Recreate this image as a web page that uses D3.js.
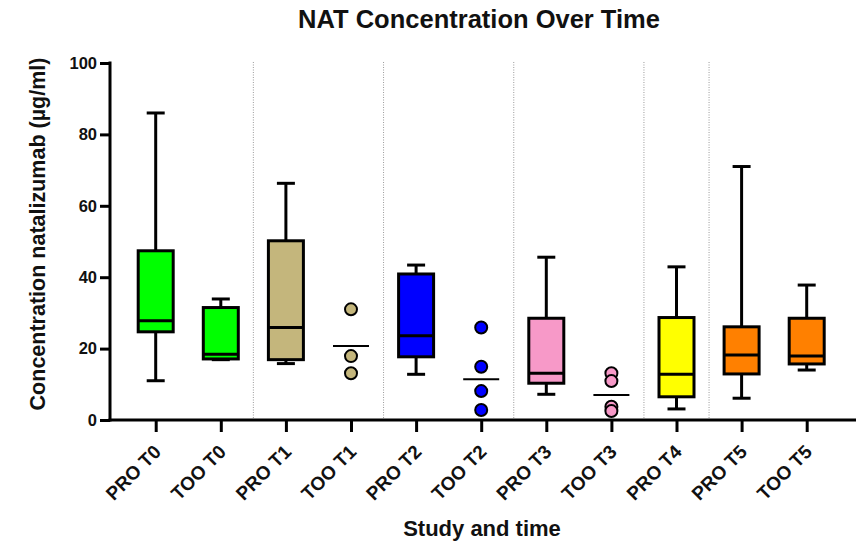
<!DOCTYPE html>
<html>
<head>
<meta charset="utf-8">
<script src="https://cdn.jsdelivr.net/npm/d3@7"></script>
<style>
  body { margin: 0; background: #fff; }
  svg { display: block; font-family: "Liberation Sans", Arial, sans-serif; }
</style>
</head>
<body>
<div id="chart"></div>
<script>
// Groups along the x axis
const groups = ['PRO T0', 'TOO T0', 'PRO T1', 'TOO T1', 'PRO T2', 'TOO T2',
  'PRO T3', 'TOO T3', 'PRO T4', 'PRO T5', 'TOO T5'];

// Box plot statistics (null = shown as individual points)
const whiskerLow  = [11.0, 16.9, 15.8, null, 12.8, null, 7.2, null, 3.1, 6.1, 14.0];
const q1          = [24.7, 17.1, 16.9, null, 17.7, null, 10.3, null, 6.5, 12.9, 15.7];
const medians     = [27.8, 18.4, 25.9, 20.7, 23.6, 11.4, 13.1, 7.0, 12.8, 18.2, 17.9];
const q3          = [47.4, 31.5, 50.2, null, 40.9, null, 28.5, null, 28.7, 26.1, 28.5];
const whiskerHigh = [86.0, 33.9, 66.3, null, 43.4, null, 45.6, null, 42.9, 71.0, 37.8];

// Individual values for the small groups
const tooT1Points = [31.0, 17.9, 13.1];
const tooT2Points = [25.9, 14.9, 8.1, 2.8];
const tooT3Points = [13.1, 10.9, 3.7, 2.5];
const pointGroups = { 'TOO T1': tooT1Points, 'TOO T2': tooT2Points, 'TOO T3': tooT3Points };

const yTicks = [0, 20, 40, 60, 80, 100];

// Fill colour per time point
const timeColors = {
  T0: '#00ff00', T1: '#c4b67c', T2: '#0000ff',
  T3: '#f799c8', T4: '#ffff00', T5: '#ff8000'
};

const width = 856;
const height = 542;
const font = '"Liberation Sans", Arial, sans-serif';

const svg = d3.select('#chart')
  .append('svg')
  .attr('width', width)
  .attr('height', height);

const x = d3.scalePoint()
  .domain(groups)
  .range([155.7, 806.7]);

const y = d3.scaleLinear()
  .domain([0, 100])
  .range([420, 63]);

const axisLeftX = 110;
const timeOf = g => g.split(' ')[1];

// Dotted separators between time points
const separators = [];
for (let i = 1; i < groups.length; i++) {
  if (timeOf(groups[i]) !== timeOf(groups[i - 1])) {
    separators.push((x(groups[i]) + x(groups[i - 1])) / 2);
  }
}
svg.append('g')
  .selectAll('line')
  .data(separators)
  .enter()
  .append('line')
  .attr('x1', d => d)
  .attr('x2', d => d)
  .attr('y1', y(100) - 1)
  .attr('y2', y(0))
  .attr('stroke', '#9a9a9a')
  .attr('stroke-width', 1)
  .attr('stroke-dasharray', '1,1.5');

// Boxes
const boxW = 35;
const capW = 18;
const boxIdx = groups.map((g, i) => i).filter(i => q1[i] !== null);

const boxes = svg.append('g')
  .selectAll('g')
  .data(boxIdx)
  .enter()
  .append('g')
  .attr('transform', i => `translate(${x(groups[i])},0)`);

// whisker stems
boxes.append('line')
  .attr('x1', 0).attr('x2', 0)
  .attr('y1', i => y(whiskerHigh[i]))
  .attr('y2', i => y(whiskerLow[i]))
  .attr('stroke', '#000')
  .attr('stroke-width', 3);

// whisker caps
boxes.selectAll('line.cap')
  .data(i => [whiskerLow[i], whiskerHigh[i]])
  .enter()
  .append('line')
  .attr('class', 'cap')
  .attr('x1', -capW / 2).attr('x2', capW / 2)
  .attr('y1', d => y(d)).attr('y2', d => y(d))
  .attr('stroke', '#000')
  .attr('stroke-width', 3);

boxes.append('rect')
  .attr('x', -boxW / 2)
  .attr('width', boxW)
  .attr('y', i => y(q3[i]))
  .attr('height', i => y(q1[i]) - y(q3[i]))
  .attr('fill', i => timeColors[timeOf(groups[i])])
  .attr('stroke', '#000')
  .attr('stroke-width', 3);

boxes.append('line')
  .attr('x1', -boxW / 2).attr('x2', boxW / 2)
  .attr('y1', i => y(medians[i]))
  .attr('y2', i => y(medians[i]))
  .attr('stroke', '#000')
  .attr('stroke-width', 3);

// Point groups
const ptIdx = groups.map((g, i) => i).filter(i => q1[i] === null);
const pts = svg.append('g')
  .selectAll('g')
  .data(ptIdx)
  .enter()
  .append('g')
  .attr('transform', i => `translate(${x(groups[i])},0)`);

pts.append('line')
  .attr('x1', -18).attr('x2', 18)
  .attr('y1', i => y(medians[i]))
  .attr('y2', i => y(medians[i]))
  .attr('stroke', '#000')
  .attr('stroke-width', 2);

pts.selectAll('circle')
  .data(i => pointGroups[groups[i]].map(v => ({ v, c: timeColors[timeOf(groups[i])] })))
  .enter()
  .append('circle')
  .attr('cx', 0)
  .attr('cy', d => y(d.v))
  .attr('r', 6)
  .attr('fill', d => d.c)
  .attr('stroke', '#000')
  .attr('stroke-width', 2);

// Y axis
const yAxis = svg.append('g')
  .attr('transform', `translate(${axisLeftX},0)`)
  .call(d3.axisLeft(y).tickValues(yTicks).tickSize(10).tickPadding(3).tickSizeOuter(0));
yAxis.select('.domain').attr('stroke-width', 3).attr('d', `M0,${y(100) - 1.5}V${y(0) + 1.5}`);
yAxis.selectAll('.tick line').attr('stroke-width', 3);
yAxis.selectAll('.tick text')
  .attr('font-family', font)
  .attr('font-size', 16.5)
  .attr('font-weight', 'bold')
  .attr('fill', '#111');

// X axis
const xAxis = svg.append('g')
  .attr('transform', `translate(0,${y(0)})`)
  .call(d3.axisBottom(x).tickSize(12).tickSizeOuter(0));
xAxis.select('.domain').attr('stroke-width', 3).attr('d', `M${axisLeftX - 1.5},0H${width}`);
xAxis.selectAll('.tick line').attr('stroke-width', 3);
xAxis.selectAll('.tick text')
  .attr('font-family', font)
  .attr('font-size', 19)
  .attr('font-weight', 'bold')
  .attr('fill', '#111')
  .attr('text-anchor', 'end')
  .attr('y', 0)
  .attr('dy', 0)
  .attr('transform', 'translate(6,33) rotate(-45)');

// Titles
svg.append('text')
  .attr('x', 479)
  .attr('y', 28)
  .attr('text-anchor', 'middle')
  .attr('font-family', font)
  .attr('font-size', 25.5)
  .attr('font-weight', 'bold')
  .attr('fill', '#111')
  .text('NAT Concentration Over Time');

svg.append('text')
  .attr('x', 482)
  .attr('y', 536)
  .attr('text-anchor', 'middle')
  .attr('font-family', font)
  .attr('font-size', 22)
  .attr('font-weight', 'bold')
  .attr('fill', '#111')
  .text('Study and time');

svg.append('text')
  .attr('transform', 'translate(45,234) rotate(-90)')
  .attr('text-anchor', 'middle')
  .attr('font-family', font)
  .attr('font-size', 21.5)
  .attr('font-weight', 'bold')
  .attr('fill', '#111')
  .text('Concentration natalizumab (µg/ml)');
</script>
</body>
</html>
